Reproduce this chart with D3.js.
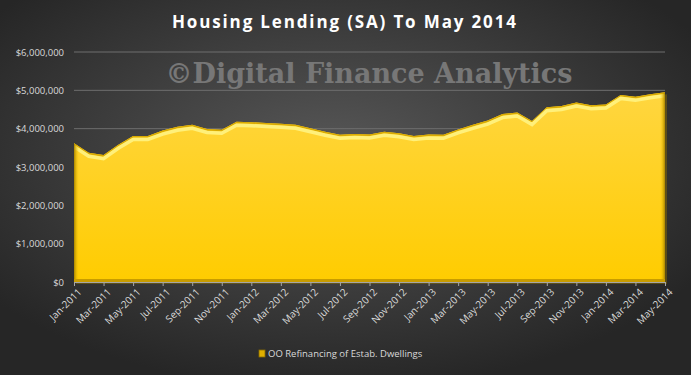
<!DOCTYPE html>
<html>
<head>
<meta charset="utf-8">
<script src="https://cdn.jsdelivr.net/npm/d3@7"></script>
<style>
  body { margin: 0; background: #2a2a2a; }
  svg { display: block; }
  .tick text { fill: #d9d9d9; font-family: "Open Sans", sans-serif; font-size: 9.5px; }
</style>
</head>
<body>
<div id="chart"></div>
<script>
// chart data
const months = [
  "Jan-2011","Feb-2011","Mar-2011","Apr-2011","May-2011","Jun-2011","Jul-2011","Aug-2011","Sep-2011","Oct-2011","Nov-2011","Dec-2011",
  "Jan-2012","Feb-2012","Mar-2012","Apr-2012","May-2012","Jun-2012","Jul-2012","Aug-2012","Sep-2012","Oct-2012","Nov-2012","Dec-2012",
  "Jan-2013","Feb-2013","Mar-2013","Apr-2013","May-2013","Jun-2013","Jul-2013","Aug-2013","Sep-2013","Oct-2013","Nov-2013","Dec-2013",
  "Jan-2014","Feb-2014","Mar-2014","Apr-2014","May-2014"
];
const refinancing = [
  3620000, 3370000, 3310000, 3580000, 3810000, 3810000, 3950000, 4050000, 4100000, 3990000, 3970000, 4180000,
  4170000, 4150000, 4130000, 4100000, 4010000, 3920000, 3840000, 3860000, 3850000, 3920000, 3880000, 3810000,
  3850000, 3840000, 3980000, 4100000, 4210000, 4380000, 4420000, 4200000, 4560000, 4590000, 4680000, 4610000,
  4630000, 4880000, 4830000, 4900000, 4950000
];
const yTicks = [0, 1000000, 2000000, 3000000, 4000000, 5000000, 6000000];
const seriesName = "OO Refinancing of Estab. Dwellings";
const chartTitle = "Housing Lending (SA) To May 2014";
const watermark = "\u00A9Digital Finance Analytics";

const width = 691, height = 375;
const margin = {left: 74, right: 26, top: 52, bottom: 93};

var svg = d3.select("#chart").append("svg")
  .attr("width", width)
  .attr("height", height);

var defs = svg.append("defs");

var bg = defs.append("radialGradient")
  .attr("id", "bg")
  .attr("cx", "48%").attr("cy", "42%").attr("r", "62%");
bg.append("stop").attr("offset", "0%").attr("stop-color", "#585858");
bg.append("stop").attr("offset", "100%").attr("stop-color", "#262626");

var fillGrad = defs.append("linearGradient")
  .attr("id", "fillGrad")
  .attr("x1", 0).attr("x2", 0).attr("y1", 0).attr("y2", 1);
fillGrad.append("stop").attr("offset", "0%").attr("stop-color", "#ffd640");
fillGrad.append("stop").attr("offset", "100%").attr("stop-color", "#ffcc00");

var edgeL = defs.append("linearGradient").attr("id", "edgeL");
edgeL.append("stop").attr("offset", "0%").attr("stop-color", "#a88400");
edgeL.append("stop").attr("offset", "100%").attr("stop-color", "#ffcc00").attr("stop-opacity", 0);
var edgeR = defs.append("linearGradient").attr("id", "edgeR");
edgeR.append("stop").attr("offset", "0%").attr("stop-color", "#ffcc00").attr("stop-opacity", 0);
edgeR.append("stop").attr("offset", "100%").attr("stop-color", "#a88400");

svg.append("rect")
  .attr("width", width).attr("height", height)
  .attr("fill", "url(#bg)");

// scales
var x = d3.scalePoint().domain(months).range([margin.left, width - margin.right]);
var y = d3.scaleLinear().domain([0, 6000000]).range([height - margin.bottom, margin.top]);

// title + watermark
svg.append("text")
  .attr("x", 344).attr("y", 28)
  .attr("text-anchor", "middle")
  .attr("textLength", 344).attr("lengthAdjust", "spacing")
  .style("font-family", "'Open Sans', sans-serif")
  .style("font-weight", "bold")
  .style("font-size", "17px")
  .style("fill", "#ffffff")
  .text(chartTitle);

svg.append("text")
  .attr("x", 369).attr("y", 83)
  .attr("text-anchor", "middle")
  .attr("textLength", 407).attr("lengthAdjust", "spacingAndGlyphs")
  .style("font-family", "'DejaVu Serif', serif")
  .style("font-weight", "bold")
  .style("font-size", "27px")
  .style("fill", "#777777")
  .text(watermark);

// gridlines
svg.append("g")
  .selectAll("line")
  .data(yTicks.slice(1))
  .enter().append("line")
  .attr("x1", margin.left).attr("x2", width - margin.right)
  .attr("y1", d => y(d)).attr("y2", d => y(d))
  .attr("stroke", "#6e6e6e").attr("stroke-width", 1);

// area
var area = d3.area()
  .x((d, i) => x(months[i]))
  .y0(y(0))
  .y1(d => y(d));
var topLine = d3.line()
  .x((d, i) => x(months[i]))
  .y(d => y(d));

defs.append("clipPath").attr("id", "areaClip")
  .append("path").attr("d", area(refinancing));

svg.append("path")
  .attr("d", area(refinancing))
  .attr("fill", "#8a6d00")
  .attr("transform", "translate(2,2)")
  .attr("opacity", 0.5);

svg.append("path")
  .attr("d", area(refinancing))
  .attr("fill", "url(#fillGrad)");

var bevel = svg.append("g").attr("clip-path", "url(#areaClip)");
bevel.append("path")
  .attr("d", topLine(refinancing))
  .attr("fill", "none")
  .attr("stroke", "#d9aa00")
  .attr("stroke-width", 3);
bevel.append("path")
  .attr("d", topLine(refinancing))
  .attr("transform", "translate(0,3.5)")
  .attr("fill", "none")
  .attr("stroke", "#fff07a")
  .attr("stroke-width", 3.5);
bevel.append("rect")
  .attr("x", margin.left).attr("y", margin.top)
  .attr("width", 5).attr("height", y(0) - margin.top)
  .attr("fill", "url(#edgeL)");
bevel.append("rect")
  .attr("x", width - margin.right - 5).attr("y", margin.top)
  .attr("width", 5).attr("height", y(0) - margin.top)
  .attr("fill", "url(#edgeR)");
bevel.append("rect")
  .attr("x", margin.left).attr("y", y(0) - 3)
  .attr("width", width - margin.left - margin.right).attr("height", 3)
  .attr("fill", "#c89c00");

// y axis
var yAxis = svg.append("g")
  .attr("transform", "translate(" + margin.left + ",0)")
  .call(d3.axisLeft(y)
    .tickValues(yTicks)
    .tickSize(0)
    .tickPadding(10)
    .tickFormat(d => "$" + d3.format(",")(d)));
yAxis.select(".domain").remove();

// x axis
var xAxis = svg.append("g")
  .attr("transform", "translate(0," + y(0) + ")")
  .call(d3.axisBottom(x)
    .tickValues(months.filter((d, i) => i % 2 === 0))
    .tickSize(4)
    .tickSizeOuter(0));
xAxis.select(".domain").attr("stroke", "#a6a6a6");
xAxis.selectAll(".tick line").attr("stroke", "#a6a6a6");
xAxis.selectAll(".tick text")
  .style("font-size", "10px")
  .attr("text-anchor", "end")
  .attr("transform", "rotate(-45)")
  .attr("dx", "-0.2em")
  .attr("dy", "0.6em");

// legend
var legend = svg.append("g").attr("transform", "translate(259,350)");
legend.append("rect")
  .attr("x", 0).attr("y", 0).attr("width", 6).attr("height", 7)
  .attr("fill", "#e0b000").attr("stroke", "#8a6d00").attr("stroke-width", 0.8);
legend.append("text")
  .attr("x", 9).attr("y", 7)
  .style("font-family", "'Open Sans', sans-serif")
  .style("font-size", "9.5px")
  .style("fill", "#d9d9d9")
  .text(seriesName);
</script>
</body>
</html>
